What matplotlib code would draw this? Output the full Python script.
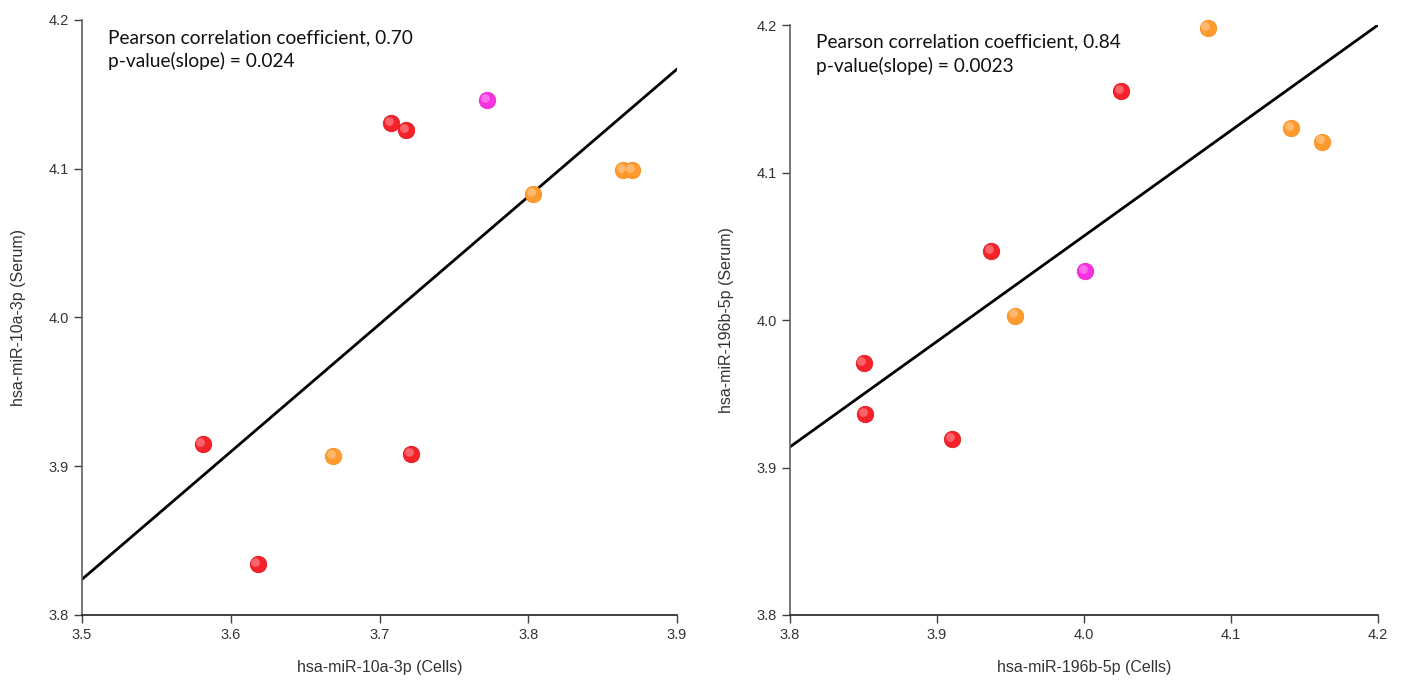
import numpy as np
import matplotlib
matplotlib.use('Agg')
import matplotlib.pyplot as plt
from matplotlib.transforms import offset_copy

# left panel: hsa-miR-10a-3p
cells_10a = [3.581, 3.618, 3.669, 3.721, 3.708, 3.718, 3.772, 3.803, 3.864, 3.870]
serum_10a = [3.915, 3.834, 3.907, 3.908, 4.131, 4.126, 4.146, 4.083, 4.099, 4.099]
group_10a = ['r', 'r', 'o', 'r', 'r', 'r', 'm', 'o', 'o', 'o']
fit_10a = [3.824, 4.167]

# right panel: hsa-miR-196b-5p
cells_196b = [4.084, 4.025, 4.141, 4.162, 3.937, 4.001, 3.953, 3.850, 3.851, 3.910]
serum_196b = [4.198, 4.155, 4.130, 4.121, 4.047, 4.033, 4.003, 3.971, 3.936, 3.919]
group_196b = ['o', 'r', 'o', 'o', 'r', 'm', 'o', 'r', 'r', 'r']
fit_196b = [3.914, 4.200]

colors = {'r': '#f5222a', 'o': '#ff9a2e', 'm': '#f531e0'}
edges = {'r': '#e01820', 'o': '#f59026', 'm': '#e828d4'}

fig = plt.figure(figsize=(14.07, 6.8), dpi=100)
ax1 = fig.add_axes([0.0583, 0.0956, 0.4229, 0.875])
ax2 = fig.add_axes([0.5615, 0.0956, 0.4179, 0.8676])


def draw(ax, x, y, grp, fit, xlim, xticks, xlabel, ylabel, r, p):
    ax.plot(xlim, fit, color='black', lw=2, zorder=2)
    hl = offset_copy(ax.transData, fig=ax.figure, x=-1.5, y=1.5, units='points')
    for xi, yi, g in zip(x, y, grp):
        ax.scatter([xi], [yi], s=140, color=colors[g], edgecolors=edges[g], linewidths=0.6,
                   zorder=3, clip_on=False)
        ax.scatter([xi], [yi], s=40, color='white', alpha=0.3, linewidths=0, zorder=4,
                   transform=hl, clip_on=False)
    ax.set_xlim(xlim)
    ax.set_ylim(3.8, 4.2)
    ax.set_xticks(xticks)
    ax.set_xticklabels(['%.1f' % t for t in xticks])
    ax.set_yticks([3.8, 3.9, 4.0, 4.1, 4.2])
    ax.set_yticklabels(['3.8', '3.9', '4.0', '4.1', '4.2'])
    for s in ['top', 'right']:
        ax.spines[s].set_visible(False)
    ax.spines['left'].set_color('#606060')
    ax.spines['bottom'].set_color('#202020')
    ax.spines['left'].set_linewidth(1.2)
    ax.spines['bottom'].set_linewidth(1.2)
    ax.tick_params(direction='out', length=6, width=1, colors='#404040', labelsize=10.5, labelcolor='#333333')
    for lbl in ax.get_xticklabels() + ax.get_yticklabels():
        lbl.set_family('Liberation Sans')
    ax.set_xlabel(xlabel, fontsize=11.5, family='Liberation Sans', color='#333333', labelpad=13)
    ax.set_ylabel(ylabel, fontsize=11.5, family='Liberation Sans', color='#333333', labelpad=16)
    ax.text(0.044, 0.985, 'Pearson correlation coefficient, %s\np-value(slope) = %s' % (r, p),
            transform=ax.transAxes, ha='left', va='top', fontsize=13.8, family='Lato',
            color='#111111', linespacing=1.4)


draw(ax1, cells_10a, serum_10a, group_10a, fit_10a, [3.5, 3.9], [3.5, 3.6, 3.7, 3.8, 3.9],
     'hsa-miR-10a-3p (Cells)', 'hsa-miR-10a-3p (Serum)', '0.70', '0.024')
draw(ax2, cells_196b, serum_196b, group_196b, fit_196b, [3.8, 4.2], [3.8, 3.9, 4.0, 4.1, 4.2],
     'hsa-miR-196b-5p (Cells)', 'hsa-miR-196b-5p (Serum)', '0.84', '0.0023')

fig.savefig('out.png', dpi=100)
